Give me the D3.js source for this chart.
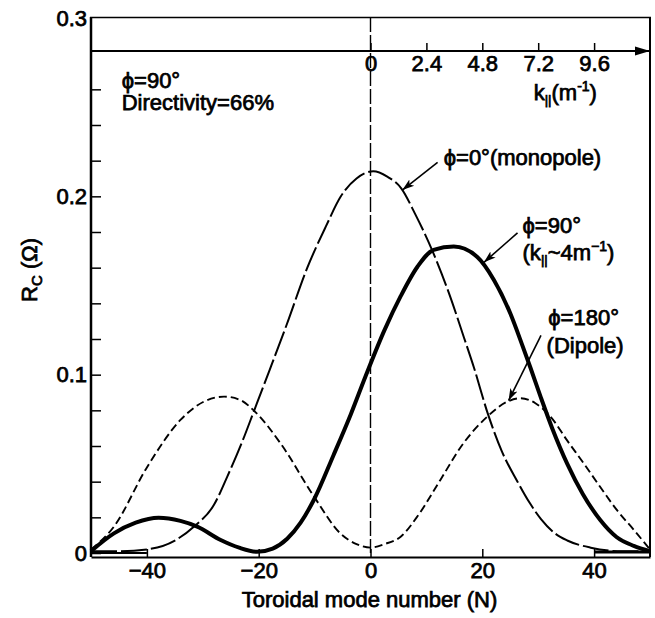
<!DOCTYPE html>
<html>
<head>
<meta charset="utf-8">
<script src="https://cdn.jsdelivr.net/npm/d3@7"></script>
<style>
  body { margin: 0; background: #fff; }
  text { font-family: "Liberation Sans", Arial, sans-serif; fill: #000; }
  .lbl { font-size: 22px; stroke: #000; stroke-width: 0.75px; }
</style>
</head>
<body>
<div id="plot"></div>
<script>
// phi = 0 deg (monopole), thin long dash
var monoN  = [-50, -45, -40, -35, -31.5, -28, -25.6, -23, -20.8, -18, -15, -11.3, -8, -5.3, -2.5, 0.5, 3, 5.5, 8, 11, 14, 16.7, 18.5, 21, 23.5, 26.3, 28.5, 30.5, 33, 35.2, 39.4, 45, 50];
var monoRc = [0.001, 0.001, 0.002, 0.007, 0.015, 0.027, 0.043, 0.062, 0.080, 0.103, 0.128, 0.160, 0.183, 0.200, 0.210, 0.214, 0.211, 0.2045, 0.190, 0.170, 0.146, 0.121, 0.104, 0.078, 0.057, 0.040, 0.028, 0.019, 0.011, 0.007, 0.003, 0.001, 0.001];

// phi = 90 deg, thick solid
var phi90N  = [-50, -45.9, -42, -37.9, -34, -31, -26.8, -23.5, -20.3, -17.5, -14.9, -12.5, -10.1, -6.6, -3.5, -0.9, 2.5, 5.4, 8.4, 11.3, 14.9, 19.1, 22.1, 25, 27.1, 28.6, 30.5, 32.5, 35.2, 38, 41.1, 44, 47.1, 50];
var phi90Rc = [0.001, 0.011, 0.017, 0.0198, 0.018, 0.0148, 0.0073, 0.003, 0.0007, 0.0025, 0.008, 0.017, 0.030, 0.055, 0.078, 0.099, 0.125, 0.144, 0.1605, 0.170, 0.1718, 0.166, 0.153, 0.1344, 0.117, 0.104, 0.087, 0.070, 0.050, 0.033, 0.0185, 0.009, 0.004, 0.001];

// phi = 180 deg (dipole), short dash
var dipN  = [-50, -45.9, -40, -34, -29.8, -26.2, -23.3, -20.9, -16.1, -10.1, -5.4, -2.5, 0, 2.5, 5.4, 8.5, 12.5, 16.5, 20.9, 24.5, 26.8, 29.5, 32.2, 35.2, 38.2, 41.1, 44.1, 47.1, 50];
var dipRc = [0.002, 0.0148, 0.048, 0.0746, 0.0849, 0.0877, 0.0858, 0.080, 0.0615, 0.0316, 0.011, 0.005, 0.003, 0.005, 0.0091, 0.021, 0.041, 0.061, 0.0765, 0.0849, 0.0868, 0.084, 0.0765, 0.063, 0.050, 0.037, 0.024, 0.013, 0.002];

var nTicks = [-40, -20, 0, 20, 40];
var yMinor = [0, 0.02, 0.04, 0.06, 0.08, 0.1, 0.12, 0.14, 0.16, 0.18, 0.2, 0.22, 0.24, 0.26];
var yLabels = [0, 0.1, 0.2, 0.3];
var kTicks = [0, 2.4, 4.8, 7.2, 9.6];

var width = 655, height = 618;

var x = d3.scaleLinear().domain([-50, 50]).range([91, 650]);
var y = d3.scaleLinear().domain([0, 0.3]).range([553, 18]);
// k_par = N / R, R ~ 4.17 m
var k = d3.scaleLinear().domain([-12, 12]).range([91, 650]);

var svg = d3.select("#plot")
  .append("svg")
  .attr("width", width)
  .attr("height", height);

svg.append("rect").attr("width", width).attr("height", height).attr("fill", "#fff");

var defs = svg.append("defs");
defs.append("marker")
  .attr("id", "head")
  .attr("markerUnits", "userSpaceOnUse")
  .attr("viewBox", "0 -5 12 10")
  .attr("refX", 12).attr("refY", 0)
  .attr("markerWidth", 12).attr("markerHeight", 10)
  .attr("orient", "auto")
  .append("path").attr("d", "M0,-4L12,0L0,4L3,0Z").attr("fill", "#000");
defs.append("marker")
  .attr("id", "bighead")
  .attr("markerUnits", "userSpaceOnUse")
  .attr("viewBox", "0 -5 15 10")
  .attr("refX", 15).attr("refY", 0)
  .attr("markerWidth", 15).attr("markerHeight", 10)
  .attr("orient", "auto")
  .append("path").attr("d", "M0,-4.5L15,0L0,4.5Z").attr("fill", "#000");

// frame: top and right borders
svg.append("line").attr("x1", 90).attr("x2", 651).attr("y1", 17.5).attr("y2", 17.5)
  .attr("stroke", "#000").attr("stroke-width", 1.5);
svg.append("line").attr("x1", 650).attr("x2", 650).attr("y1", 17).attr("y2", 557)
  .attr("stroke", "#000").attr("stroke-width", 2);

// bottom axis
var bottomAxis = svg.append("g")
  .attr("transform", "translate(0,557)")
  .call(d3.axisBottom(x).tickValues(nTicks).tickSizeInner(-8).tickSizeOuter(0).tickPadding(5));
bottomAxis.select(".domain").attr("stroke-width", 2);
bottomAxis.selectAll(".tick line").attr("stroke-width", 1.5);
bottomAxis.selectAll("text").attr("class", "lbl").attr("font-family", null).attr("font-size", null);

// left axis: inward ticks every 0.02
var leftAxis = svg.append("g")
  .attr("transform", "translate(91,0)")
  .call(d3.axisRight(y).tickValues(yMinor).tickSize(10).tickSizeOuter(0).tickFormat(""));
leftAxis.select(".domain").attr("stroke-width", 2.5).attr("d", "M0,17V557");
leftAxis.selectAll(".tick line").attr("stroke-width", 1.5);

var leftLbl = svg.append("g")
  .attr("transform", "translate(91,0)")
  .call(d3.axisLeft(y).tickValues(yLabels).tickSize(0).tickPadding(4)
    .tickFormat(function (d) { return d === 0 ? "0" : d3.format(".1f")(d); }));
leftLbl.select(".domain").remove();
leftLbl.selectAll("text").attr("class", "lbl").attr("font-family", null).attr("font-size", null);

// zero level stubs near the ends
svg.append("line").attr("x1", x(-50)).attr("x2", x(-40)).attr("y1", y(0)).attr("y2", y(0))
  .attr("stroke", "#000").attr("stroke-width", 2);
svg.append("line").attr("x1", x(40)).attr("x2", x(50)).attr("y1", y(0) - 1).attr("y2", y(0) - 1)
  .attr("stroke", "#000").attr("stroke-width", 3);

// top k_par axis
var ky = y(0.2815);
var kAxis = svg.append("g")
  .attr("transform", "translate(0," + ky + ")")
  .call(d3.axisTop(k).tickValues(kTicks).tickSize(8).tickFormat(""));
kAxis.select(".domain").remove();
kAxis.selectAll(".tick line").attr("stroke-width", 1.5);
svg.append("line").attr("x1", 91).attr("x2", 650).attr("y1", ky).attr("y2", ky)
  .attr("stroke", "#000").attr("stroke-width", 1.8).attr("marker-end", "url(#bighead)");
var kLbl = svg.append("g")
  .attr("transform", "translate(0," + ky + ")")
  .call(d3.axisBottom(k).tickValues(kTicks).tickSize(0).tickPadding(4).tickFormat(d3.format("")));
kLbl.select(".domain").remove();
kLbl.selectAll("text").attr("class", "lbl").attr("font-family", null).attr("font-size", null);

// N = 0 dashed line
svg.append("line").attr("x1", x(0)).attr("x2", x(0)).attr("y1", 17).attr("y2", y(0))
  .attr("stroke", "#000").attr("stroke-width", 1.4).attr("stroke-dasharray", "15,3");

// curves
var line = d3.line()
  .x(function (d) { return x(d[0]); })
  .y(function (d) { return y(d[1]); })
  .curve(d3.curveMonotoneX);

function pairs(a, b) { return a.map(function (v, i) { return [v, b[i]]; }); }

svg.append("path").datum(pairs(dipN, dipRc))
  .attr("d", line).attr("fill", "none").attr("stroke", "#000")
  .attr("stroke-width", 1.9).attr("stroke-dasharray", "8,4");
svg.append("path").datum(pairs(monoN, monoRc))
  .attr("d", line).attr("fill", "none").attr("stroke", "#000")
  .attr("stroke-width", 2).attr("stroke-dasharray", "26,4");
svg.append("path").datum(pairs(phi90N, phi90Rc))
  .attr("d", line).attr("fill", "none").attr("stroke", "#000")
  .attr("stroke-width", 4);

// annotations
function label(n, v, parts) {
  var t = svg.append("text").attr("class", "lbl").attr("x", x(n)).attr("y", y(v));
  parts.forEach(function (p) {
    var s = t.append("tspan").text(p.t);
    if (p.dy) s.attr("dy", p.dy);
    if (p.fs) s.style("font-size", p.fs + "px");
  });
  return t;
}
function arrow(n0, v0, n1, v1) {
  svg.append("line")
    .attr("x1", x(n0)).attr("y1", y(v0)).attr("x2", x(n1)).attr("y2", y(v1))
    .attr("stroke", "#000").attr("stroke-width", 1.6).attr("marker-end", "url(#head)");
}

label(-44.5, 0.261, [{ t: "\u03d5=90\u00b0" }]);
label(-44.5, 0.2484, [{ t: "Directivity=66%" }]);

label(13.1, 0.2176, [{ t: "\u03d5=0\u00b0(monopole)" }]);
arrow(12, 0.219, 5.7, 0.2035);

label(27.2, 0.1795, [{ t: "\u03d5=90\u00b0" }]);
label(27.2, 0.1643, [{ t: "(k" }, { t: "||", fs: 13, dy: 4 }, { t: "~4m", dy: -4 }, { t: "\u22121", fs: 14, dy: -9 }, { t: ")", dy: 9 }]);
arrow(26.3, 0.1795, 20.3, 0.163);

label(31.8, 0.1279, [{ t: "\u03d5=180\u00b0" }]);
label(31.5, 0.1122, [{ t: "(Dipole)" }]);
arrow(30.5, 0.122, 24.7, 0.0855);

label(29.2, 0.254, [{ t: "k" }, { t: "||", fs: 13, dy: 4 }, { t: "(m", dy: -4 }, { t: "-1", fs: 14, dy: -9 }, { t: ")", dy: 9 }]);

// axis titles
svg.append("text").attr("class", "lbl")
  .attr("x", x(0) - 1).attr("y", 607)
  .attr("text-anchor", "middle")
  .text("Toroidal mode number (N)");

var yt = svg.append("text").attr("class", "lbl")
  .attr("transform", "translate(37,270) rotate(-90)")
  .attr("text-anchor", "middle");
yt.append("tspan").text("R");
yt.append("tspan").attr("dy", 5).style("font-size", "15px").text("C");
yt.append("tspan").attr("dy", -5).text(" (\u03a9)");
</script>
</body>
</html>
